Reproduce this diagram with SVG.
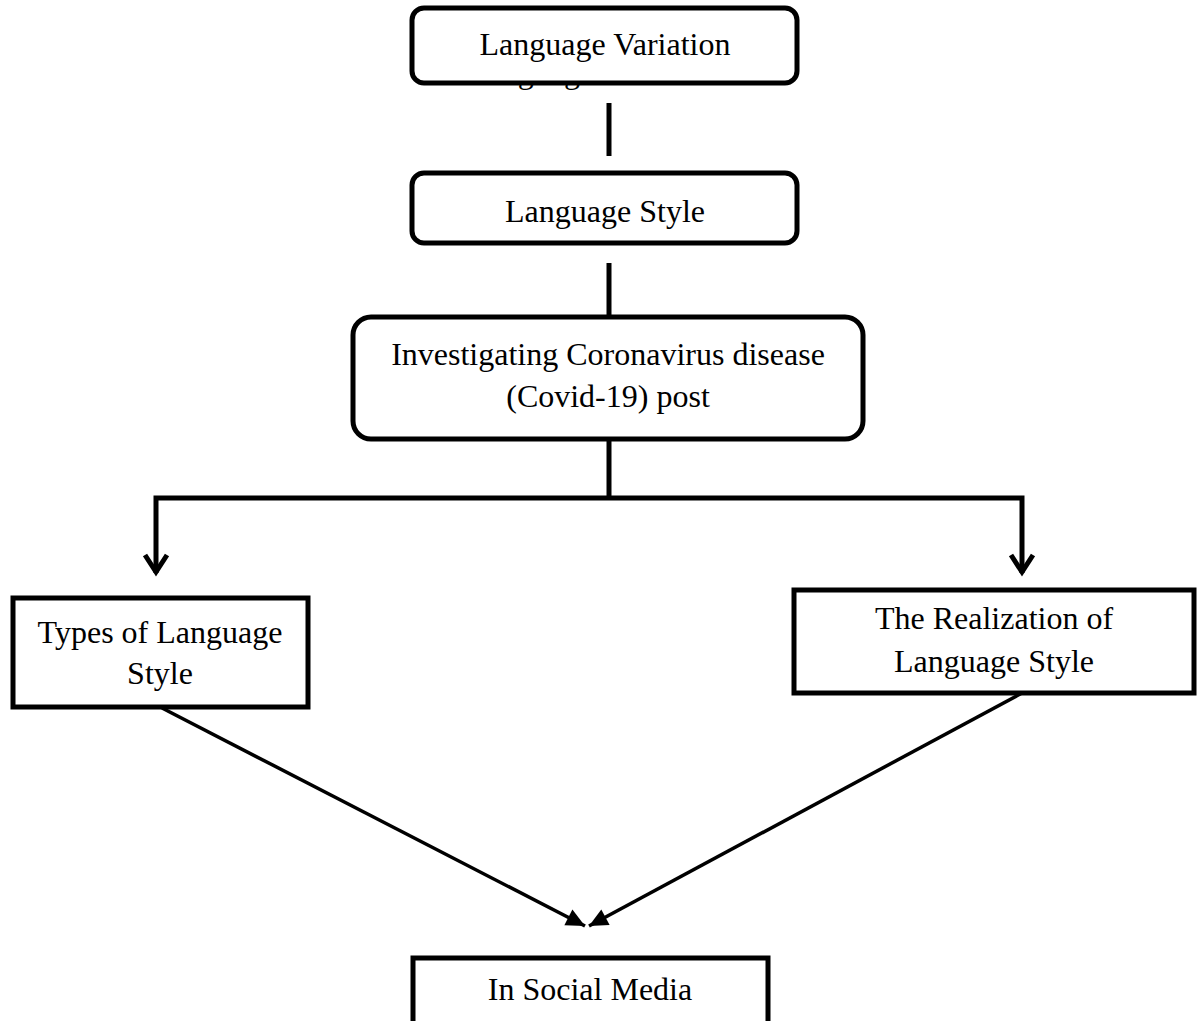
<svg xmlns="http://www.w3.org/2000/svg" width="1197" height="1021" viewBox="0 0 1197 1021">
<style>
  .box{fill:#fff;stroke:#000;stroke-width:5}
  .t{font-family:"Liberation Serif","Times New Roman",serif;font-size:32px;fill:#000;text-anchor:middle}
  .ln{fill:none;stroke:#000;stroke-width:5}
  .dg{fill:none;stroke:#000;stroke-width:3.5}
</style>
<defs>
  <marker id="tri" markerUnits="userSpaceOnUse" markerWidth="22" markerHeight="22" viewBox="-18 -9 20 18" refX="0" refY="0" orient="auto">
    <path d="M-17,-8 L0,0 L-17,8 Z" fill="#000"/>
  </marker>
</defs>
<g id="connectors">
  <line class="ln" x1="609" y1="103" x2="609" y2="156"/>
  <line class="ln" x1="609" y1="263" x2="609" y2="317"/>
  <line class="ln" x1="609" y1="440" x2="609" y2="498"/>
  <path class="ln" d="M156,573 V498 H1022 V573" />
  <path d="M145,555 L156,572 L167,555" fill="none" stroke="#000" stroke-width="5"/>
  <path d="M1011,555 L1022,572 L1033,555" fill="none" stroke="#000" stroke-width="5"/>
  <line class="dg" x1="162" y1="708" x2="585" y2="926" marker-end="url(#tri)"/>
  <line class="dg" x1="1022" y1="693" x2="589" y2="926" marker-end="url(#tri)"/>
</g>
<g id="n1">
  <text class="t" x="468" y="83" style="text-anchor:start">Language</text>
  <rect class="box" x="412" y="8" width="385" height="75" rx="12"/>
  <text class="t" x="605" y="55">Language Variation</text>
</g>
<g id="n2">
  <rect class="box" x="412" y="173" width="385" height="70" rx="12"/>
  <text class="t" x="605" y="222">Language Style</text>
</g>
<g id="n3">
  <rect class="box" x="353" y="317" width="510" height="122" rx="18"/>
  <text class="t" x="608" y="365">Investigating Coronavirus disease</text>
  <text class="t" x="608" y="407">(Covid-19) post</text>
</g>
<g id="n4">
  <rect class="box" x="13" y="598" width="295" height="109"/>
  <text class="t" x="160" y="643">Types of Language</text>
  <text class="t" x="160" y="684">Style</text>
</g>
<g id="n5">
  <rect class="box" x="794" y="590" width="400" height="103"/>
  <text class="t" x="994" y="629">The Realization of</text>
  <text class="t" x="994" y="672">Language Style</text>
</g>
<g id="n6">
  <rect class="box" x="413" y="958" width="355" height="90"/>
  <text class="t" x="590" y="1000">In Social Media</text>
</g>
</svg>
